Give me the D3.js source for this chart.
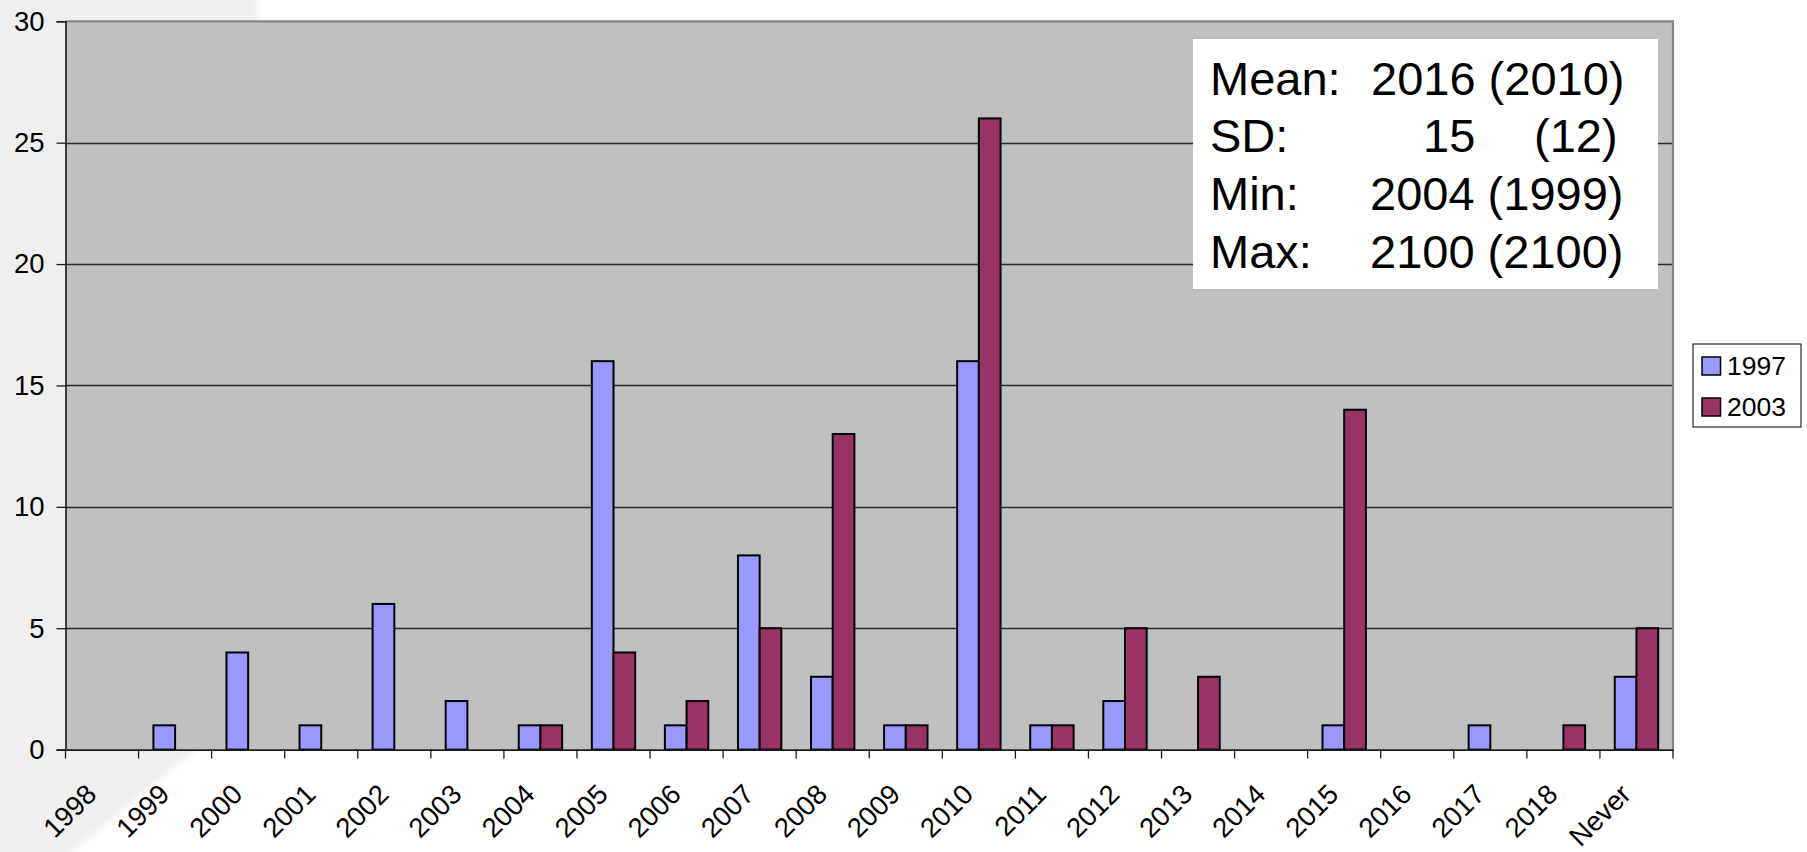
<!DOCTYPE html>
<html>
<head>
<meta charset="utf-8">
<script src="https://cdn.jsdelivr.net/npm/d3@7"></script>
<style>
  html, body { margin: 0; padding: 0; background: #ffffff; }
  svg { display: block; font-family: "Liberation Sans", Arial, sans-serif; }
</style>
</head>
<body>
<svg id="chart" width="1807" height="852"></svg>
<script>
// Expected year of an event, counts of answers in two survey rounds
const categories = ["1998", "1999", "2000", "2001", "2002", "2003", "2004", "2005", "2006", "2007",
  "2008", "2009", "2010", "2011", "2012", "2013", "2014", "2015", "2016", "2017", "2018", "Never"];
const seriesNames = ["1997", "2003"];
const values1997 = [0, 1, 4, 1, 6, 2, 1, 16, 1, 8, 3, 1, 16, 1, 2, 0, 0, 1, 0, 1, 0, 3];
const values2003 = [0, 0, 0, 0, 0, 0, 1, 4, 2, 5, 13, 1, 26, 1, 5, 3, 0, 14, 0, 0, 1, 5];
const seriesColors = ["#9999ff", "#993366"];
const yTicks = [0, 5, 10, 15, 20, 25, 30];

// Summary statistics box: label, 1997 value, 2003 value in parentheses
const statLabels = ["Mean:", "SD:", "Min:", "Max:"];
const statValues = ["2016 (2010)", "15", "2004 (1999)", "2100 (2100)"];

const svg = d3.select("#chart");
const W = 1807, H = 852;
const plot = { left: 65.5, right: 1673, top: 21.3, bottom: 749.6 };

// Slide background: pale grey panel on the left with a slanted lower edge
const defs = svg.append("defs");
defs.append("filter").attr("id", "soft")
  .append("feGaussianBlur").attr("stdDeviation", 3);
svg.append("rect").attr("width", W).attr("height", H).attr("fill", "#ffffff");
svg.append("path")
  .attr("d", "M-10,-10 L258,-10 L258,700 L205,742 L60,862 L-10,862 Z")
  .attr("fill", "#efefef")
  .attr("filter", "url(#soft)");

const x = d3.scaleBand().domain(categories).range([plot.left, plot.right]).paddingInner(0).paddingOuter(0);
const xs = d3.scaleBand().domain(seriesNames).range([0, x.bandwidth()]).paddingInner(0).paddingOuter(0.684);
const y = d3.scaleLinear().domain([0, 30]).range([plot.bottom, plot.top]);

// Plot area
svg.append("rect")
  .attr("x", plot.left).attr("y", plot.top)
  .attr("width", plot.right - plot.left).attr("height", plot.bottom - plot.top)
  .attr("fill", "#c0c0c0");

// Horizontal gridlines
svg.append("g").selectAll("line").data(yTicks.filter(d => d > 0 && d < 30)).join("line")
  .attr("x1", plot.left).attr("x2", plot.right)
  .attr("y1", d => Math.round(y(d)) + 0.5).attr("y2", d => Math.round(y(d)) + 0.5)
  .attr("stroke", "#2a2a2a").attr("stroke-width", 1.3);

// Grey border on top and right
svg.append("path")
  .attr("d", `M${plot.left},${plot.top} L${plot.right},${plot.top} L${plot.right},${plot.bottom}`)
  .attr("fill", "none").attr("stroke", "#858585").attr("stroke-width", 2.2);

// Bars
const rows = categories.map((c, i) => ({ cat: c, vals: [values1997[i], values2003[i]] }));
const groups = svg.append("g").selectAll("g").data(rows).join("g")
  .attr("transform", d => `translate(${x(d.cat)},0)`);
groups.selectAll("rect")
  .data(d => d.vals.map((v, j) => ({ v, s: seriesNames[j], color: seriesColors[j] })).filter(e => e.v > 0))
  .join("rect")
  .attr("x", d => xs(d.s))
  .attr("y", d => y(d.v))
  .attr("width", xs.bandwidth())
  .attr("height", d => y(0) - y(d.v))
  .attr("fill", d => d.color)
  .attr("stroke", "#000")
  .attr("stroke-width", 2);

// Y axis
const yAxis = d3.axisLeft(y).tickValues(yTicks).tickSize(9).tickPadding(12).tickFormat(d3.format("d"));
const gy = svg.append("g").attr("transform", `translate(${plot.left},0)`).call(yAxis);
gy.select(".domain").attr("stroke", "#1a1a1a").attr("stroke-width", 1.6);
gy.selectAll(".tick line").attr("stroke", "#1a1a1a").attr("stroke-width", 1.3);
gy.selectAll(".tick text").attr("font-size", 27.5).attr("fill", "#000")
  .attr("font-family", "'Liberation Sans', Arial, sans-serif");

// X axis: tick marks at category boundaries
const xAxis = d3.axisBottom(x).tickSize(0).tickFormat("");
const gx = svg.append("g").attr("transform", `translate(0,${plot.bottom})`).call(xAxis);
gx.select(".domain").attr("stroke", "#1a1a1a").attr("stroke-width", 1.6);
const edges = categories.map(c => x(c)).concat([x(categories[categories.length - 1]) + x.bandwidth()]);
gx.selectAll(".edge").data(edges).join("line").attr("class", "edge")
  .attr("x1", d => d).attr("x2", d => d).attr("y1", 0).attr("y2", 9)
  .attr("stroke", "#1a1a1a").attr("stroke-width", 1.3);

// Rotated category labels
svg.append("g").selectAll("text").data(categories).join("text")
  .attr("transform", d => `translate(${x(d) + x.bandwidth() / 2 - 4},${796}) rotate(-45)`)
  .attr("text-anchor", "end")
  .attr("font-size", 27.5)
  .attr("fill", "#000")
  .text(d => d);

// Statistics box
svg.append("rect").attr("x", 1193).attr("y", 39).attr("width", 465).attr("height", 250).attr("fill", "#ffffff");
const statBaselines = [95, 152, 210, 268];
const st = svg.append("g").attr("font-size", 47).attr("fill", "#000");
st.selectAll(".lab").data(statLabels).join("text").attr("class", "lab")
  .attr("x", 1210).attr("y", (d, i) => statBaselines[i]).text(d => d);
const valueX = [1371, 1423, 1370, 1370];
st.selectAll(".val").data(statValues).join("text").attr("class", "val")
  .attr("x", (d, i) => valueX[i]).attr("y", (d, i) => statBaselines[i]).text(d => d);
st.append("text").attr("x", 1534).attr("y", statBaselines[1]).text("(12)");

// Legend
const lg = svg.append("g");
lg.append("rect").attr("x", 1693).attr("y", 344).attr("width", 108).attr("height", 83)
  .attr("fill", "#ffffff").attr("stroke", "#000").attr("stroke-width", 1);
const li = lg.selectAll(".item").data(seriesNames).join("g").attr("class", "item")
  .attr("transform", (d, i) => `translate(1702,${357 + i * 41})`);
li.append("rect").attr("width", 18.5).attr("height", 18)
  .attr("fill", (d, i) => seriesColors[i]).attr("stroke", "#000").attr("stroke-width", 1.5);
li.append("text").attr("x", 25).attr("y", 18).attr("font-size", 26.5).attr("fill", "#000").text(d => d);
</script>
</body>
</html>
